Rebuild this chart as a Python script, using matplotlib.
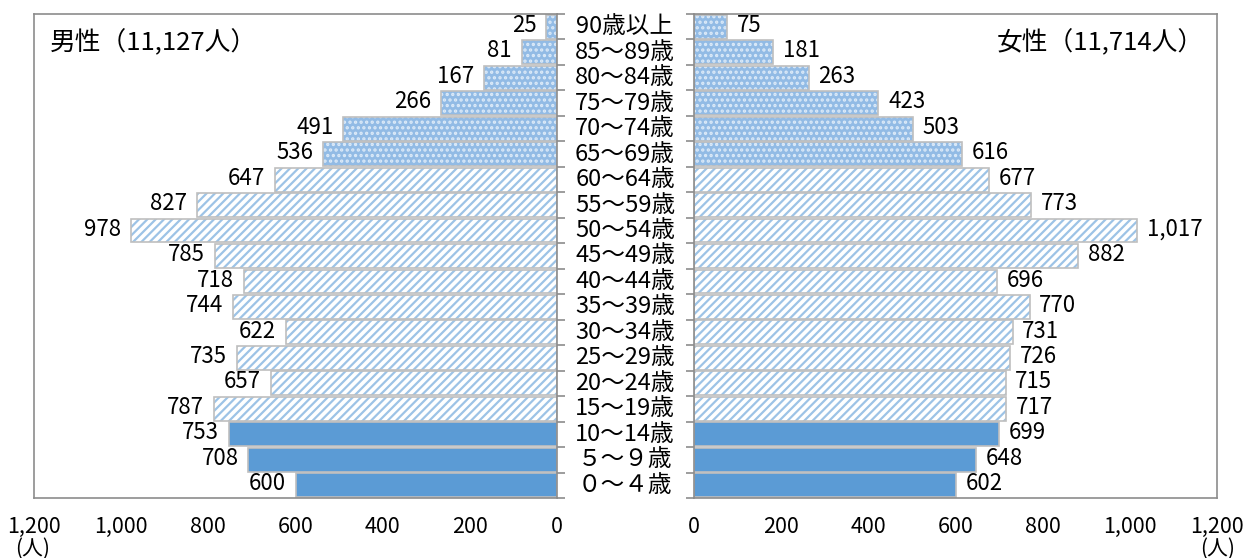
import matplotlib
matplotlib.use("Agg")
import matplotlib.pyplot as plt
import matplotlib.transforms as mtransforms
import numpy as np

plt.rcParams["font.family"] = ["Noto Sans CJK JP", "DejaVu Sans"]
plt.rcParams["hatch.linewidth"] = 1.6

# age groups from youngest (bottom) to oldest (top)
ages = ["０～４歳", "５～９歳", "10～14歳", "15～19歳", "20～24歳", "25～29歳",
        "30～34歳", "35～39歳", "40～44歳", "45～49歳", "50～54歳", "55～59歳",
        "60～64歳", "65～69歳", "70～74歳", "75～79歳", "80～84歳", "85～89歳",
        "90歳以上"]
male = [600, 708, 753, 787, 657, 735, 622, 744, 718, 785, 978, 827,
        647, 536, 491, 266, 167, 81, 25]
female = [602, 648, 699, 717, 715, 726, 731, 770, 696, 882, 1017, 773,
          677, 616, 503, 423, 263, 181, 75]
male_title = "男性（11,127人）"
female_title = "女性（11,714人）"
xticks = [0, 200, 400, 600, 800, 1000, 1200]

SOLID = "#5B9BD5"
LIGHT = "#9DC3E6"
EDGE = "#BFBFBF"
SPINE = "#8C8C8C"
FS = 16

fig = plt.figure(figsize=(12.48, 5.58), dpi=100)
ax_m = fig.add_axes([34 / 1248, 1 - 498 / 558, 523 / 1248, 484 / 558])
ax_f = fig.add_axes([694 / 1248, 1 - 498 / 558, 523 / 1248, 484 / 558])

y = np.arange(len(ages))


def style_for(i):
    if i <= 2:
        return dict(facecolor=SOLID, hatch=None, edgecolor=SOLID)
    if i <= 12:
        return dict(facecolor="white", hatch="////", edgecolor=LIGHT)
    return dict(facecolor="#92BBE5", hatch="...", edgecolor="#DCEAF8")


def draw(ax, vals, side):
    for i, v in enumerate(vals):
        st = style_for(i)
        ax.barh(y[i], v, height=0.94, facecolor=st["facecolor"],
                hatch=st["hatch"], edgecolor=st["edgecolor"], linewidth=0)
        ax.barh(y[i], v, height=0.94, fill=False, edgecolor=EDGE, linewidth=1.2)
        off = -7 if side == "left" else 7
        ax.annotate(f"{v:,}", (v, y[i]), xytext=(off, 1), textcoords="offset points",
                    ha="right" if side == "left" else "left", va="center",
                    fontsize=FS)
    ax.set_xlim(0, 1200)
    ax.set_ylim(-0.5, len(ages) - 0.5)
    ax.set_xticks(xticks)
    ax.set_xticklabels([f"{t:,}" for t in xticks], fontsize=FS - 0.5)
    ax.tick_params(axis="x", length=0, pad=13)
    ax.set_yticks(np.arange(-0.5, len(ages), 1.0))
    ax.set_yticklabels([])
    for s in ax.spines.values():
        s.set_color(SPINE)
        s.set_linewidth(1.2)
    ax.tick_params(axis="y", length=6, width=1.2, color=SPINE, direction="out")


draw(ax_m, male, "left")
draw(ax_f, female, "right")
ax_m.invert_xaxis()
ax_m.yaxis.tick_right()
ax_f.yaxis.tick_left()

ax_m.text(0.03, 0.94, male_title, transform=ax_m.transAxes, ha="left", va="center",
          fontsize=18.5)
ax_f.text(0.975, 0.94, female_title, transform=ax_f.transAxes, ha="right", va="center",
          fontsize=18.5)

trans = mtransforms.blended_transform_factory(ax_m.transAxes, ax_m.transData)
for i, a in enumerate(ages):
    ax_m.text(1.13, y[i], a, transform=trans, ha="center", va="center",
              fontsize=17, clip_on=False)

fig.text(33 / 1248, 1 - 549 / 558, "(人)", ha="center", va="center", fontsize=FS - 1)
fig.text(1218 / 1248, 1 - 549 / 558, "(人)", ha="center", va="center", fontsize=FS - 1)

fig.savefig("out.png", dpi=100)
